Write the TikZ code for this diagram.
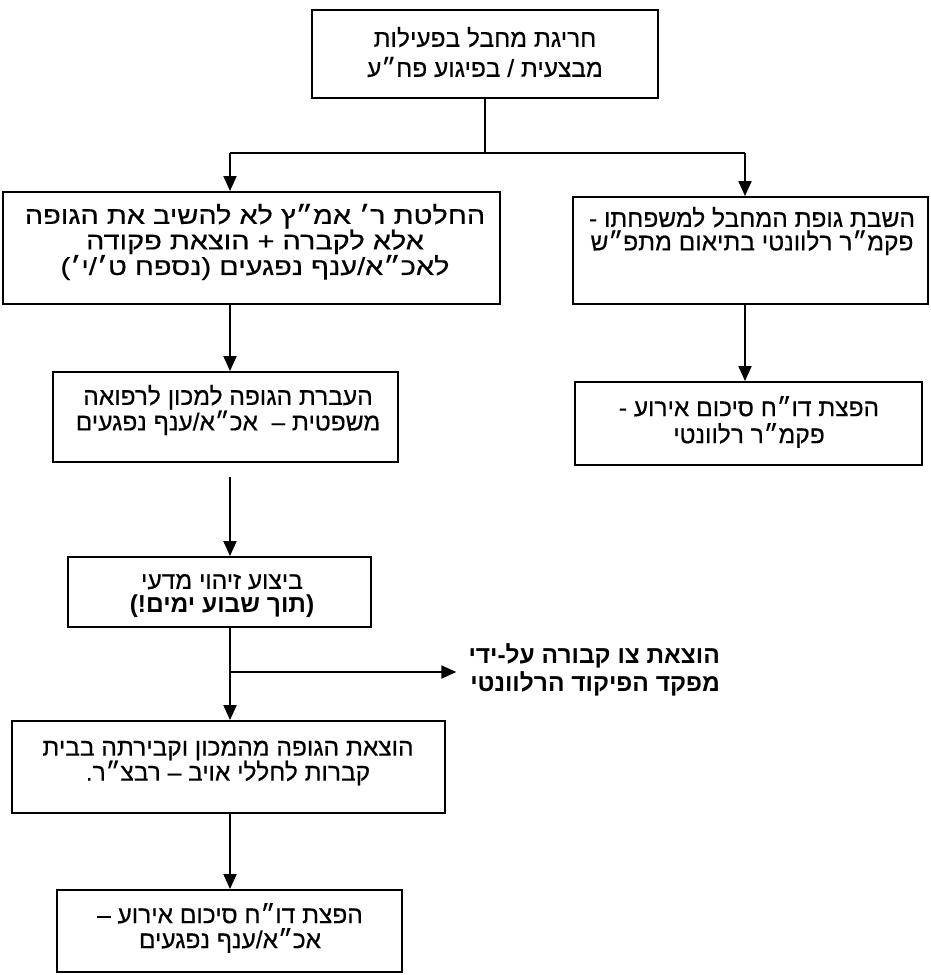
\documentclass[tikz,border=0pt]{standalone}
\usepackage{fontspec}
\newfontfamily\heb[Script=Hebrew,FakeBold=0.4]{Liberation Sans}
\newfontfamily\hebwide[Script=Hebrew,FakeBold=0.4,FakeStretch=1.18]{Liberation Sans}
\newfontfamily\hebbold[Script=Hebrew]{Liberation Sans Bold}
\TeXXeTstate=1
\usetikzlibrary{arrows.meta,calc}
\newcommand\RL[1]{\beginR #1\endR}
\tikzset{
  boxst/.style={draw=black, line width=1.9pt, inner sep=0pt},
  txt/.style={align=center, inner sep=0pt, font=\heb\fontsize{24.5}{#1}\selectfont},
  txt/.default=24,
  arr/.style={line width=1.9pt, -{Triangle[length=15pt,width=13pt]}},
  ln/.style={line width=1.9pt}
}
\begin{document}
\begin{tikzpicture}[x=1pt,y=-1pt]
\useasboundingbox (0,0) rectangle (931,975);
% boxes
\node[boxst, minimum width=346pt, minimum height=88pt] (b0) at (485,54) {};
\node[boxst, minimum width=497pt, minimum height=112pt] (b1) at (251.5,248) {};
\node[boxst, minimum width=355pt, minimum height=107pt] (b2) at (750.5,250.5) {};
\node[boxst, minimum width=347pt, minimum height=83pt] (b3) at (748.5,423.5) {};
\node[boxst, minimum width=345pt, minimum height=90pt] (b4) at (225.5,417) {};
\node[boxst, minimum width=303pt, minimum height=70pt] (b5) at (219.5,592) {};
\node[boxst, minimum width=433pt, minimum height=92pt] (b6) at (228.5,767) {};
\node[boxst, minimum width=345pt, minimum height=82pt] (b7) at (229.5,931) {};
% texts
\node[txt=30] (t0) at (485,52) {\RL{חריגת מחבל בפעילות}\\\RL{מבצעית / בפיגוע פח״ע}};
\node[txt=23.5, font=\hebwide\fontsize{24.5}{23.5}\selectfont] (t1) at (255,242) {\RL{החלטת ר׳ אמ״ץ לא להשיב את הגופה}\\\RL{אלא לקברה + הוצאת פקודה}\\\RL{לאכ״א/ענף נפגעים (נספח ט׳/י׳)}};
\node[txt=23.5] (t2) at (752,231) {\RL{השבת גופת המחבל למשפחתו -}\\\RL{פקמ״ר רלוונטי בתיאום מתפ״ש}};
\node[txt=27] (t3) at (749,422) {\RL{הפצת דו״ח סיכום אירוע -}\\\RL{פקמ״ר רלוונטי}};
\node[txt=23.5] (t4) at (228,410) {\RL{העברת הגופה למכון לרפואה}\\\RL{משפטית – \ אכ״א/ענף נפגעים}};
\node[txt] (t5) at (222,596) {\RL{ביצוע זיהוי מדעי}\\\RL{\hebbold (תוך שבוע ימים!)}};
\node[txt=25] (t6) at (228,763) {\RL{הוצאת הגופה מהמכון וקבירתה בבית}\\\RL{קברות לחללי אויב – רבצ״ר.}};
\node[txt=25] (t7) at (230,928) {\RL{הפצת דו״ח סיכום אירוע –}\\\RL{אכ״א/ענף נפגעים}};
\node[align=right, anchor=east, inner sep=0pt, font=\hebbold\fontsize{24.5}{28}\selectfont] (side) at (720,670) {\RL{הוצאת צו קבורה על-ידי}\\\RL{מפקד הפיקוד הרלוונטי}};
% connectors
\coordinate (j) at (485,153);
\coordinate (jl) at (230,153);
\coordinate (jr) at (745,153);
\coordinate (br) at (230,672);
\draw[ln] (b0.south) -- (j);
\draw[ln] (jl) -- (jr);
\draw[arr] (jl) -- (jl |- b1.north);
\draw[arr] (jr) -- (jr |- b2.north);
\draw[arr] (jr |- b2.south) -- (jr |- b3.north);
\draw[arr] (jl |- b1.south) -- (jl |- b4.north);
\draw[arr, shorten <=14pt] (jl |- b4.south) -- (jl |- b5.north);
\draw[arr] (jl |- b5.south) -- (jl |- b6.north);
\draw[arr] (br) -- ([xshift=-12pt]br -| side.west);
\draw[arr] (jl |- b6.south) -- (jl |- b7.north);
\end{tikzpicture}
\end{document}
